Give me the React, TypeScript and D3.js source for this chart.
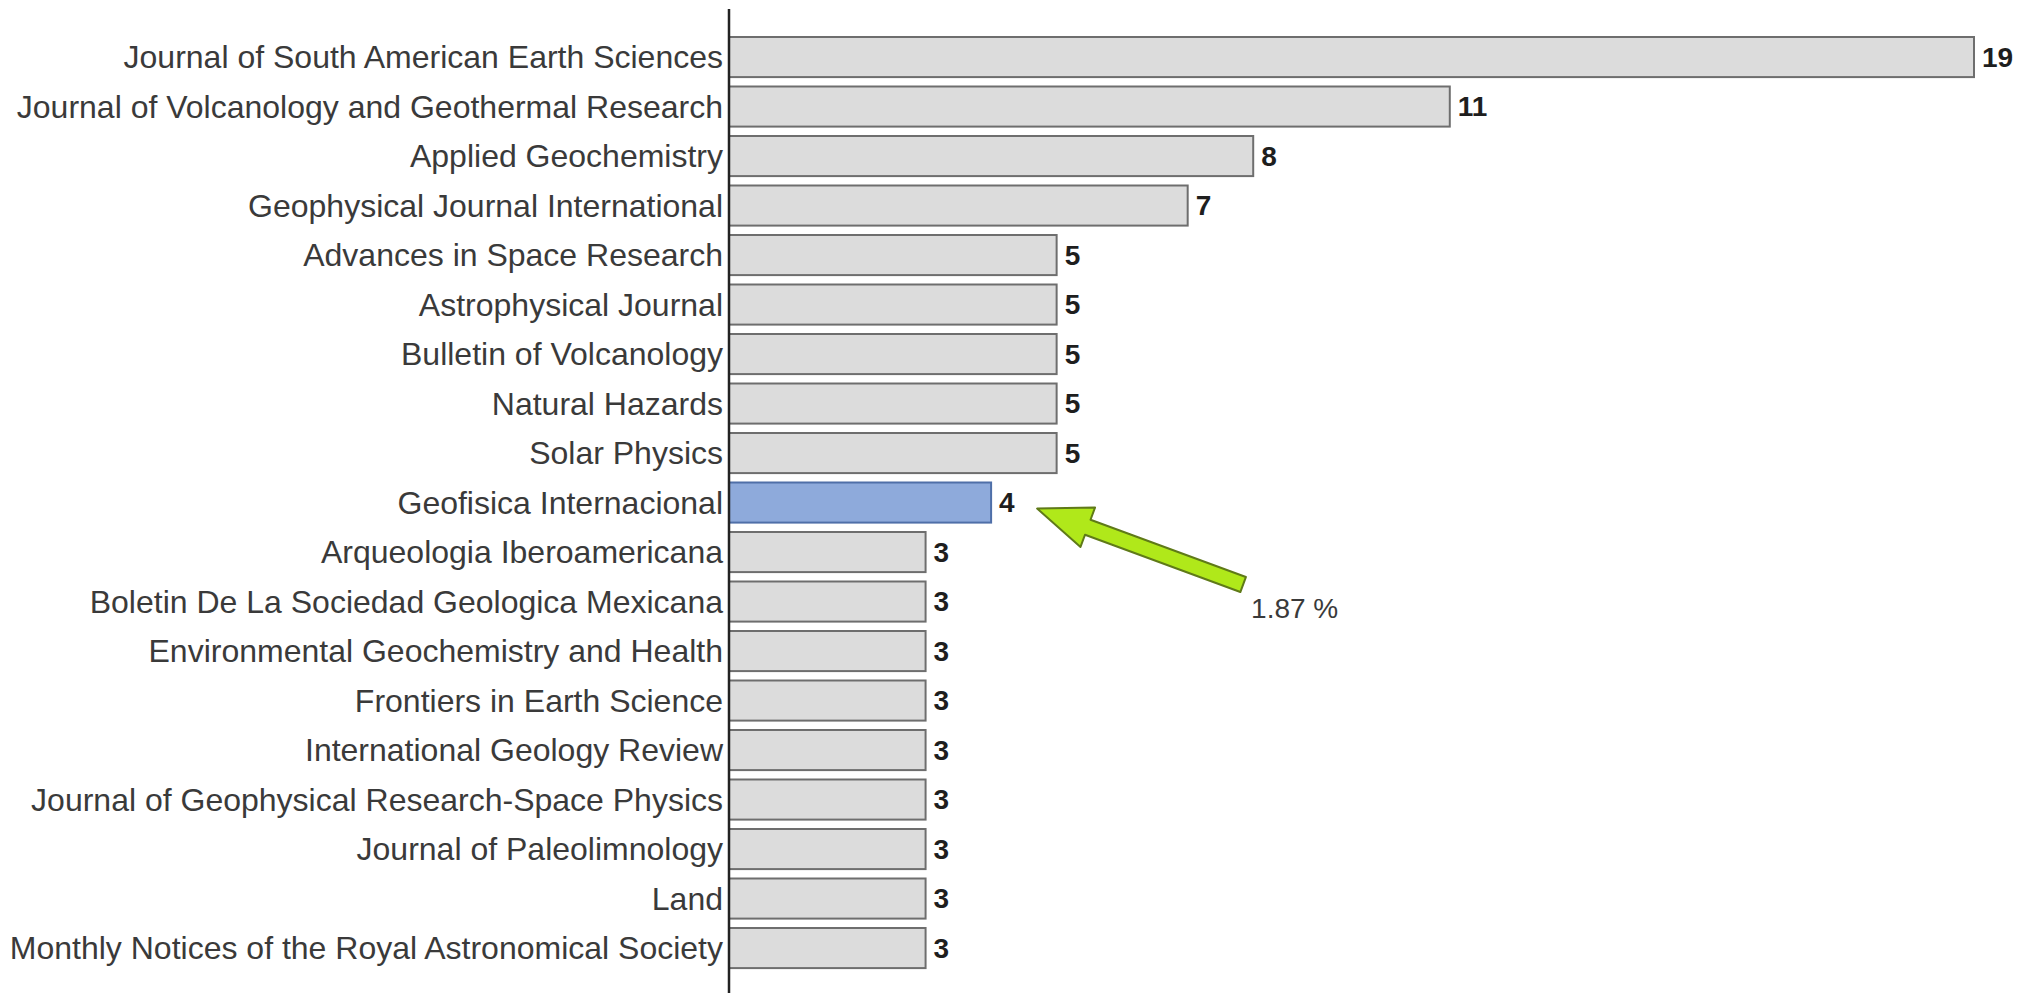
import React from "react";
import * as d3 from "d3";

const categories: string[] = [
  "Journal of South American Earth Sciences",
  "Journal of Volcanology and Geothermal Research",
  "Applied Geochemistry",
  "Geophysical Journal International",
  "Advances in Space Research",
  "Astrophysical Journal",
  "Bulletin of Volcanology",
  "Natural Hazards",
  "Solar Physics",
  "Geofisica Internacional",
  "Arqueologia Iberoamericana",
  "Boletin De La Sociedad Geologica Mexicana",
  "Environmental Geochemistry and Health",
  "Frontiers in Earth Science",
  "International Geology Review",
  "Journal of Geophysical Research-Space Physics",
  "Journal of Paleolimnology",
  "Land",
  "Monthly Notices of the Royal Astronomical Society",
];
const counts: number[] = [19, 11, 8, 7, 5, 5, 5, 5, 5, 4, 3, 3, 3, 3, 3, 3, 3, 3, 3];
const highlighted = "Geofisica Internacional";
const highlightShare = "1.87 %";

const W = 2033;
const H = 993;
const axisX = 729;
const step = 49.5;
const y0 = 32.3;

export default function App() {
  const x = d3.scaleLinear().domain([0, 19]).range([axisX, 1974]);
  const y = d3
    .scaleBand<string>()
    .domain(categories)
    .range([y0, y0 + categories.length * step])
    .paddingInner(0.19)
    .paddingOuter(0.095);
  const bw = y.bandwidth();

  const hiIdx = categories.indexOf(highlighted);
  const tipX = x(counts[hiIdx]) + 46;
  const tipY = (y(highlighted) ?? 0) + bw / 2 + 6;
  const tailX = tipX + 206;
  const tailY = tipY + 76;
  const ang = Math.atan2(tailY - tipY, tailX - tipX);
  const len = Math.hypot(tailX - tipX, tailY - tipY);
  const headLen = 54;
  const headHW = 21;
  const shaftHW = 8;
  const local: [number, number][] = [
    [0, 0],
    [headLen, -headHW],
    [headLen, -shaftHW],
    [len, -shaftHW],
    [len, shaftHW],
    [headLen, shaftHW],
    [headLen, headHW],
  ];
  const pts = local.map(([u, v]) => [
    tipX + u * Math.cos(ang) - v * Math.sin(ang),
    tipY + u * Math.sin(ang) + v * Math.cos(ang),
  ]);
  const arrowPath = d3.line()(pts as [number, number][]) + "Z";

  return (
    <div style={{ position: "fixed", left: 0, top: 0 }}>
      <svg width={W} height={H} style={{ display: "block", background: "#fff" }}>
        <g fontFamily="'Liberation Sans', Arial, sans-serif">
          {categories.map((c, i) => {
            const yy = y(c) ?? 0;
            const isHi = c === highlighted;
            return (
              <g key={c}>
                <rect
                  x={x(0)}
                  y={yy}
                  width={x(counts[i]) - x(0)}
                  height={bw}
                  fill={isHi ? "#8eaadb" : "#dcdcdc"}
                  stroke={isHi ? "#4f6fa8" : "#6e6e6e"}
                  strokeWidth={2}
                />
                <text
                  x={axisX - 6}
                  y={yy + bw / 2}
                  dy="0.35em"
                  textAnchor="end"
                  fontSize={32}
                  fill="#3a3a3a"
                >
                  {c}
                </text>
                <text
                  x={x(counts[i]) + 8}
                  y={yy + bw / 2}
                  dy="0.35em"
                  fontSize={28}
                  fontWeight="bold"
                  fill="#1e1e1e"
                >
                  {counts[i]}
                </text>
              </g>
            );
          })}
          <line x1={axisX} x2={axisX} y1={9} y2={H} stroke="#222" strokeWidth={2.5} />
          <path d={arrowPath} fill="#b0e81a" stroke="#5f7a18" strokeWidth={2} strokeLinejoin="round" />
          <text x={tailX + 8} y={tailY + 33} fontSize={28} fill="#3a3a3a">
            {highlightShare}
          </text>
        </g>
      </svg>
    </div>
  );
}
